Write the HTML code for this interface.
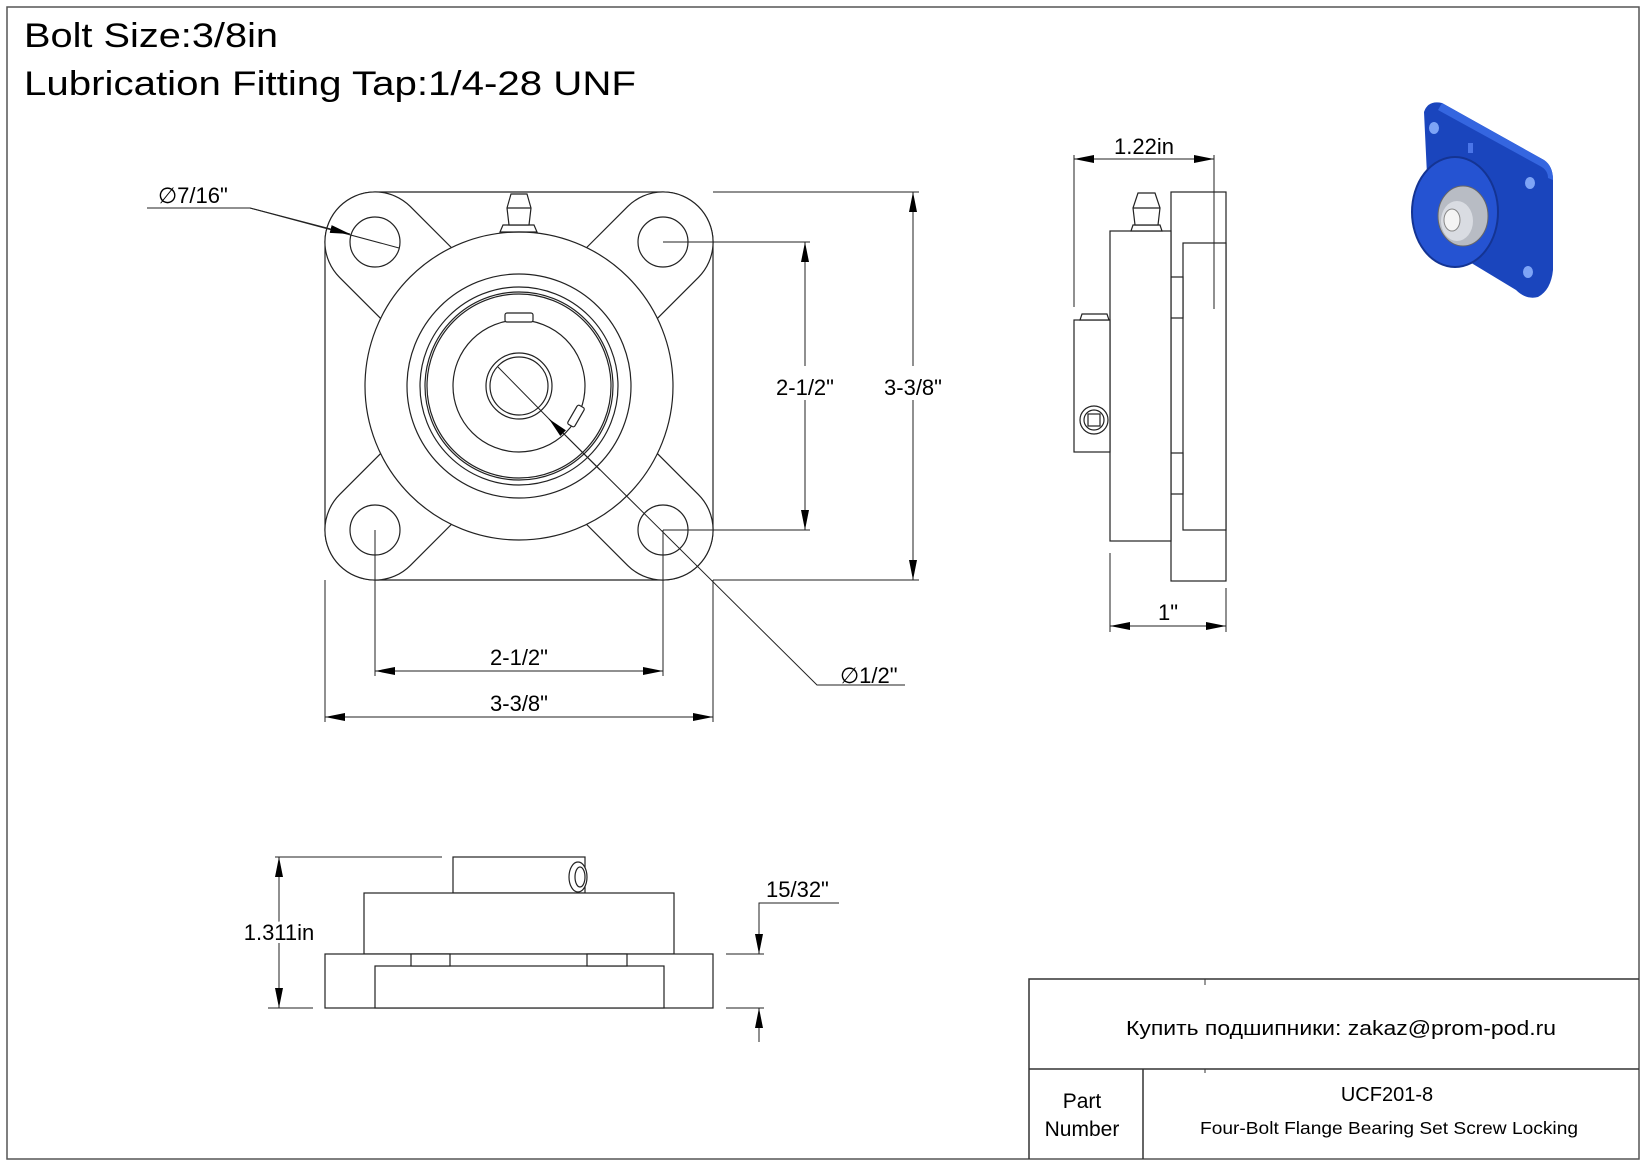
<!DOCTYPE html>
<html><head><meta charset="utf-8"><style>
html,body{margin:0;padding:0;background:#fff;}
svg{display:block;}
text{font-family:"Liberation Sans","DejaVu Sans",sans-serif;fill:#000;}
</style></head><body>
<svg width="1647" height="1165" viewBox="0 0 1647 1165" xmlns="http://www.w3.org/2000/svg">
<defs>
<marker id="ar" viewBox="0 0 20 8" refX="20" refY="4" markerWidth="20" markerHeight="8" markerUnits="userSpaceOnUse" orient="auto-start-reverse">
<path d="M0,0 L20,4 L0,8 z" fill="#000"/></marker>
</defs>
<rect x="7" y="7" width="1632" height="1152" fill="none" stroke="#555" stroke-width="1.5"/>
<text x="24" y="47" font-size="34" textLength="254" lengthAdjust="spacingAndGlyphs">Bolt Size:3/8in</text>
<text x="24" y="95" font-size="34" textLength="612" lengthAdjust="spacingAndGlyphs">Lubrication Fitting Tap:1/4-28 UNF</text>

<g fill="none" stroke="#222" stroke-width="1.2">
<rect x="325" y="192" width="388" height="388" rx="50" fill="#fff"/>
<g id="lobe"><path d="M451.3 247.5 L410.4 206.6 A50 50 0 1 0 339.6 277.4 L380.5 318.3" fill="#fff"/></g>
<use href="#lobe" transform="rotate(90 519 386)"/>
<use href="#lobe" transform="rotate(180 519 386)"/>
<use href="#lobe" transform="rotate(270 519 386)"/>
<circle cx="519" cy="386" r="154" fill="#fff"/>
<circle cx="375" cy="242" r="25"/><circle cx="663" cy="242" r="25"/>
<circle cx="375" cy="530" r="25"/><circle cx="663" cy="530" r="25"/>
<circle cx="519" cy="386" r="112"/>
<circle cx="519" cy="386" r="99"/>
<circle cx="519" cy="386" r="94"/>
<circle cx="519" cy="386" r="92"/>
<circle cx="519" cy="386" r="66"/>
<circle cx="519" cy="386" r="33"/>
<circle cx="519" cy="386" r="29"/>
<rect x="505" y="313" width="28" height="9" rx="2" fill="#fff"/>
<rect x="572" y="405" width="8" height="22" rx="2" transform="rotate(30 576 416)" fill="#fff"/>
<path d="M500 232 L503 225 L534 225 L537 232 Z"/>
<path d="M511 194 L527 194 L531 208 L529 225 L509 225 L507 208 Z" fill="#fff"/>
<line x1="507" y1="208" x2="531" y2="208"/>
</g>

<g fill="none" stroke="#222" stroke-width="1">
<line x1="663" y1="242" x2="810" y2="242"/>
<line x1="663" y1="530" x2="810" y2="530"/>
<line x1="805" y1="366" x2="805" y2="242" marker-end="url(#ar)"/>
<line x1="805" y1="400" x2="805" y2="530" marker-end="url(#ar)"/>
<line x1="713" y1="192" x2="919" y2="192"/>
<line x1="713" y1="580" x2="919" y2="580"/>
<line x1="913" y1="366" x2="913" y2="192" marker-end="url(#ar)"/>
<line x1="913" y1="400" x2="913" y2="580" marker-end="url(#ar)"/>
<line x1="375" y1="530" x2="375" y2="676"/>
<line x1="663" y1="530" x2="663" y2="676"/>
<line x1="375" y1="671" x2="663" y2="671" marker-start="url(#ar)" marker-end="url(#ar)"/>
<line x1="325" y1="580" x2="325" y2="722"/>
<line x1="713" y1="580" x2="713" y2="722"/>
<line x1="325" y1="717" x2="713" y2="717" marker-start="url(#ar)" marker-end="url(#ar)"/>
<polyline points="147,208 250,208 399,248"/>
<line x1="250" y1="208" x2="350" y2="234" marker-end="url(#ar)"/>
<line x1="498" y1="367" x2="553" y2="423"/>
<polyline points="553,423 817,685 905,685"/>
<line x1="600" y1="470" x2="549" y2="419" marker-end="url(#ar)"/>
</g>
<text x="805" y="395" font-size="22" text-anchor="middle">2-1/2"</text>
<text x="913" y="395" font-size="22" text-anchor="middle">3-3/8"</text>
<text x="519" y="665" font-size="22" text-anchor="middle">2-1/2"</text>
<text x="519" y="711" font-size="22" text-anchor="middle">3-3/8"</text>
<text x="158" y="203" font-size="22">∅7/16"</text>
<text x="840" y="683" font-size="22">∅1/2"</text>

<g fill="#fff" stroke="#222" stroke-width="1.2">
<rect x="1171" y="192" width="55" height="389"/>
<rect x="1183" y="243" width="43" height="287"/>
<rect x="1171" y="277" width="12" height="41"/>
<rect x="1171" y="453" width="12" height="41"/>
<rect x="1110" y="231" width="61" height="310"/>
<rect x="1074" y="320" width="36" height="132"/>
<path d="M1080 320 L1082 314 L1107 314 L1109 320 Z"/>
<circle cx="1094" cy="420" r="14"/>
<circle cx="1094" cy="420" r="10"/>
<rect x="1088" y="414" width="12" height="12"/>
<path d="M1131 231 L1133 225 L1160 225 L1162 231 Z"/>
<path d="M1138 193 L1155 193 L1160 208 L1158 225 L1135 225 L1133 208 Z"/>
<line x1="1133" y1="208" x2="1160" y2="208"/>
</g>
<g fill="none" stroke="#222" stroke-width="1">
<line x1="1074" y1="155" x2="1074" y2="307"/>
<line x1="1214" y1="155" x2="1214" y2="309"/>
<line x1="1074" y1="159" x2="1214" y2="159" marker-start="url(#ar)" marker-end="url(#ar)"/>
<line x1="1110" y1="553" x2="1110" y2="632"/>
<line x1="1226" y1="588" x2="1226" y2="632"/>
<line x1="1110" y1="626" x2="1226" y2="626" marker-start="url(#ar)" marker-end="url(#ar)"/>
</g>
<text x="1144" y="154" font-size="22" text-anchor="middle">1.22in</text>
<text x="1168" y="620" font-size="22" text-anchor="middle">1"</text>

<g fill="#fff" stroke="#222" stroke-width="1.2">
<rect x="453" y="857" width="132" height="36"/>
<rect x="364" y="893" width="310" height="61"/>
<rect x="325" y="954" width="388" height="54"/>
<rect x="375" y="966" width="289" height="42"/>
<rect x="411" y="954" width="39" height="12"/>
<rect x="587" y="954" width="40" height="12"/>
<ellipse cx="578" cy="877" rx="9" ry="15"/>
<ellipse cx="580" cy="877" rx="5" ry="10"/>
</g>
<g fill="none" stroke="#222" stroke-width="1">
<line x1="275" y1="857" x2="442" y2="857"/>
<line x1="268" y1="1008" x2="313" y2="1008"/>
<line x1="279" y1="857" x2="279" y2="1008" marker-start="url(#ar)" marker-end="url(#ar)"/>
<line x1="726" y1="954" x2="764" y2="954"/>
<line x1="726" y1="1008" x2="764" y2="1008"/>
<polyline points="839,903 759,903 759,954"/>
<line x1="759" y1="912" x2="759" y2="954" marker-end="url(#ar)"/>
<line x1="759" y1="1042" x2="759" y2="1008" marker-end="url(#ar)"/>
</g>
<text x="279" y="940" font-size="22" text-anchor="middle" style="paint-order:stroke" stroke="#fff" stroke-width="6">1.311in</text>
<text x="766" y="897" font-size="22">15/32"</text>

<!-- 3D -->
<g>
<path d="M1424 112 Q1428 100 1442 103 L1544 160 Q1553 166 1553 180 L1553 270 Q1551 290 1538 297 Q1526 300 1516 290 L1430 238 Z" fill="#1a45bd"/>
<path d="M1442 103 L1544 160 Q1553 166 1553 180 L1548 178 Q1548 170 1540 166 L1438 110 Z" fill="#3566e0"/>
<ellipse cx="1455" cy="212" rx="43" ry="55" fill="#2553d2" stroke="#143493" stroke-width="2"/>
<ellipse cx="1463" cy="216" rx="25" ry="30" fill="#b8bcc4" stroke="#666" stroke-width="1"/>
<ellipse cx="1457" cy="221" rx="16" ry="20" fill="#d9dce2"/>
<ellipse cx="1452" cy="220" rx="8" ry="11" fill="#f4f4f4" stroke="#888"/>
<ellipse cx="1434" cy="128" rx="5" ry="6" fill="#7ea4f6"/>
<ellipse cx="1530" cy="183" rx="5" ry="6" fill="#7ea4f6"/>
<ellipse cx="1528" cy="272" rx="5" ry="6" fill="#7ea4f6"/>
<rect x="1468" y="143" width="5" height="10" fill="#4a75e8"/>
</g>

<g fill="none" stroke="#333" stroke-width="1.5">
<polyline points="1029,1159 1029,979 1639,979"/>
<line x1="1029" y1="1069" x2="1639" y2="1069"/>
<line x1="1143" y1="1069" x2="1143" y2="1159"/>
<line x1="1205" y1="979" x2="1205" y2="985" stroke-width="1"/>
<line x1="1205" y1="1069" x2="1205" y2="1073" stroke-width="1"/>
</g>
<text x="1341" y="1035" font-size="20" text-anchor="middle" textLength="430" lengthAdjust="spacingAndGlyphs">Купить подшипники: zakaz@prom-pod.ru</text>
<text x="1082" y="1108" font-size="21" text-anchor="middle">Part</text>
<text x="1082" y="1136" font-size="21" text-anchor="middle">Number</text>
<text x="1387" y="1101" font-size="20" text-anchor="middle">UCF201-8</text>
<text x="1389" y="1134" font-size="17.5" text-anchor="middle" textLength="378" lengthAdjust="spacingAndGlyphs">Four-Bolt Flange Bearing Set Screw Locking</text>
</svg>
</body></html>
